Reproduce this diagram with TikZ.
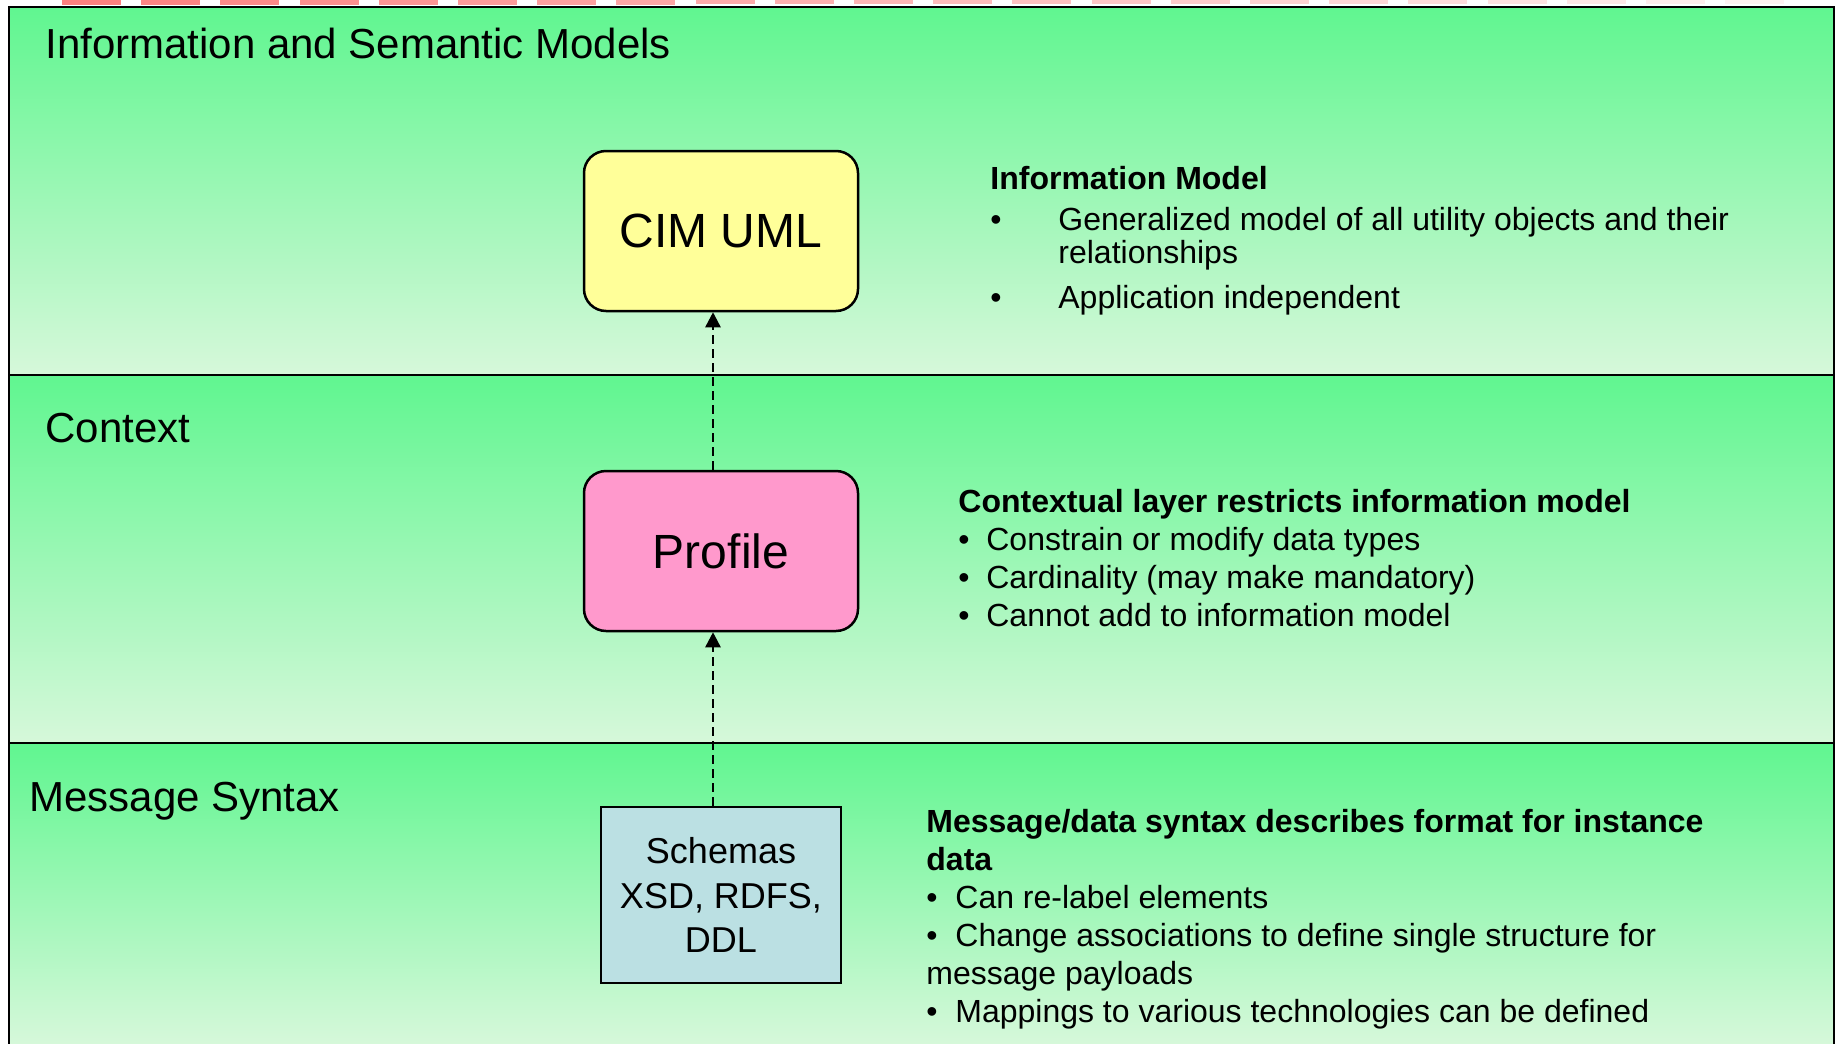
\documentclass[tikz,border=0pt]{standalone}
\usepackage{fontspec}
\setmainfont{Liberation Sans}
\usetikzlibrary{arrows.meta}
\definecolor{bandtop}{RGB}{96,246,144}
\definecolor{bandbot}{RGB}{214,248,218}
\definecolor{cimfill}{RGB}{255,255,153}
\definecolor{proffill}{RGB}{255,153,204}
\definecolor{schfill}{RGB}{187,224,227}
\newcommand{\Bul}[1]{\makebox[#1][l]{\textbullet}}

\begin{document}
\begin{tikzpicture}[x=0.5pt, y=-0.5pt,
  band/.style={top color=bandtop, bottom color=bandbot},
  layer/.style={anchor=base west, inner sep=0pt, font=\fontsize{21}{25}\selectfont},
  model/.style={draw, line width=1.25pt, rounded corners=11pt, minimum width=137pt,
    minimum height=80pt, font=\fontsize{24}{29}\selectfont},
  desc/.style={anchor=base west, align=left, inner sep=0pt, font=\fontsize{16}{19}\selectfont},
  dep/.style={dash pattern=on 4.5pt off 2.5pt, line width=1.25pt,
    -{Triangle[length=7.5pt,width=7.5pt]}}]

  \useasboundingbox (0,0) rectangle (1837,1044);

  \foreach \i in {0,...,21} {
    \pgfmathsetmacro\p{50-45*\i/21}
    \pgfmathsetmacro\h{5-1.5*\i/21}
    \fill[red!\p] (62+79.2*\i,0) rectangle +(59,\h);
  }

  \shade[band] (9,7) rectangle (1834,375);
  \shade[band] (9,375) rectangle (1834,743);
  \shade[band] (9,743) rectangle (1834,1044);
  \draw[line width=1.25pt] (9,1044) -- (9,7) -- (1834,7) -- (1834,1044);
  \draw[line width=1pt] (9,375) -- (1834,375) (9,743) -- (1834,743);

  \node[layer] (lsem) at (45,58) {Information and Semantic Models};
  \node[layer] (lctx) at (45,442) {Context};
  \node[layer] (lmsg) at (29,811) {Message Syntax};

  \node[model, fill=cimfill] (cim) at (721,231) {CIM UML};
  \node[model, fill=proffill] (prof) at (721,551) {Profile};
  \node[draw, line width=1.25pt, fill=schfill, minimum width=120pt, minimum height=88pt,
    align=center, font=\fontsize{18}{22.25}\selectfont] (sch) at (721,895) {Schemas\\XSD, RDFS,\\DDL};

  \draw[dep] ([xshift=-4pt]sch.north) -- ([xshift=-4pt]prof.south);
  \draw[dep] ([xshift=-4pt]prof.north) -- ([xshift=-4pt]cim.south);

  % base = last line
  \node[desc] (tinfo) at (990,308) {\textbf{Information Model}\\[1.5pt]
    \Bul{34pt}Generalized model of all utility objects and their\\[-2.5pt]
    \hspace*{34pt}relationships\\[3.5pt]
    \Bul{34pt}Application independent};

  \node[desc] (tctx) at (958,626) {\textbf{Contextual layer restricts information model}\\
    \Bul{14pt}Constrain or modify data types\\
    \Bul{14pt}Cardinality (may make mandatory)\\
    \Bul{14pt}Cannot add to information model};

  \node[desc] (tmsg) at (926,1022) {\textbf{Message/data syntax describes format for instance}\\
    \textbf{data}\\
    \Bul{14.5pt}Can re-label elements\\
    \Bul{14.5pt}Change associations to define single structure for\\
    message payloads\\
    \Bul{14.5pt}Mappings to various technologies can be defined};

\end{tikzpicture}
\end{document}
